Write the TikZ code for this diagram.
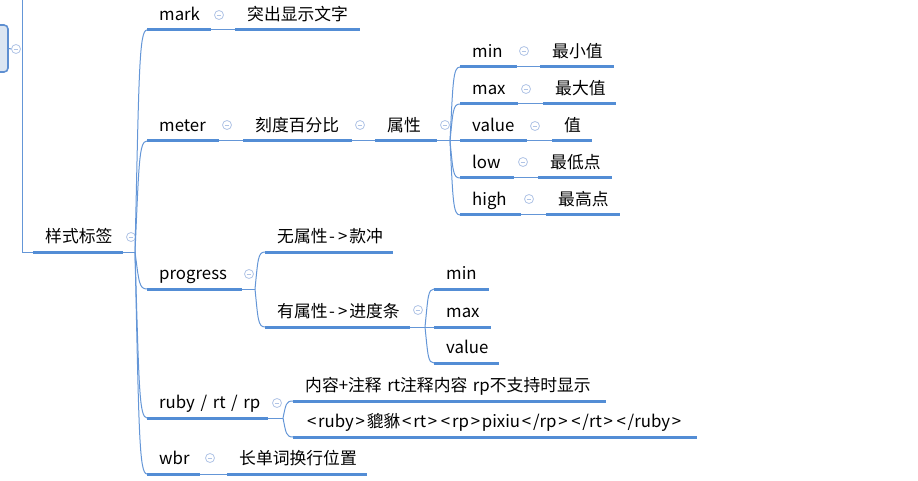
\documentclass[tikz,border=0pt]{standalone}
\usepackage{fontspec}
\setmainfont{Noto Sans CJK SC}
\definecolor{ulc}{RGB}{83,141,213}
\definecolor{lnc}{RGB}{100,150,215}
\definecolor{colc}{RGB}{176,196,230}
\definecolor{boxf}{RGB}{220,230,242}
\definecolor{boxd}{RGB}{94,143,209}
\newcommand\Tx[1]{\mbox{#1}}
\newcommand\LT{\kern1.8pt<\kern1.8pt}
\newcommand\GT{\kern1.8pt>\kern1.8pt}
\newcommand\AR{\kern1.5pt-\kern1.5pt\GT}
\begin{document}
\begin{tikzpicture}[x=1pt,y=-1pt,
  topic/.style={inner xsep=12pt, inner ysep=9pt, text height=12pt, text depth=0pt,
    anchor=south west, align=left, font=\fontsize{16.8}{20}\selectfont},
  ul/.style={draw=ulc, line width=3pt},
  conn/.style={draw=lnc, line width=1pt},
  col/.style={circle, draw=colc, fill=white, line width=0.8pt, minimum size=9pt, inner sep=0pt,
    path picture={\draw[colc, line width=0.8pt] ([xshift=-2.3pt]path picture bounding box.center) -- ([xshift=2.3pt]path picture bounding box.center);}},
  prevbox/.style={draw=boxd, fill=boxf, line width=1.6pt, rounded corners=4pt, minimum width=20pt, minimum height=47pt, inner sep=0pt}
]
\useasboundingbox (0,0) rectangle (918,481);

% previous (off-canvas) parent
\node[prevbox] (prev) at (-2,48.5) {};
\node[col] (c0) at (16,49) {};

% topics
\node[topic, text width=66pt] (root) at (33,252) {样式标签};
\node[topic, text width=40pt] (mark) at (147,30) {mark};
\node[topic, text width=101pt] (markc) at (235,30) {突出显示文字};
\node[topic, text width=48pt] (meter) at (147,141) {meter};
\node[topic, text width=85pt] (meterc) at (243,141) {刻度百分比};
\node[topic, text width=38pt] (attr) at (375,141) {属性};
\node[topic, text width=33pt] (mmin) at (460,67) {min};
\node[topic, text width=50pt] (mminc) at (540,67) {最小值};
\node[topic, text width=34pt] (mmax) at (460,104) {max};
\node[topic, text width=49pt] (mmaxc) at (543,104) {最大值};
\node[topic, text width=43pt] (mval) at (460,141) {value};
\node[topic, text width=16pt] (mvalc) at (552,141) {值};
\node[topic, text width=30pt] (mlow) at (460,178) {low};
\node[topic, text width=50pt] (mlowc) at (538,178) {最低点};
\node[topic, text width=37pt] (mhigh) at (460,215) {high};
\node[topic, text width=50pt] (mhighc) at (546,215) {最高点};
\node[topic, text width=71pt] (prog) at (147,289) {progress};
\node[topic, text width=104pt] (p1) at (265,252) {\Tx{无属性\AR 款冲}};
\node[topic, text width=121pt] (p2) at (265,327) {\Tx{有属性\AR 进度条}};
\node[topic, text width=31pt] (pmin) at (434,289) {min};
\node[topic, text width=33pt] (pmax) at (434,327) {max};
\node[topic, text width=41pt] (pval) at (434,363) {value};
\node[topic, text width=97pt] (ruby) at (147,418) {\Tx{ruby / rt / rp}};
\node[topic, text width=289pt] (r1) at (293,401) {\Tx{内容+注释 rt注释内容 rp不支持时显示}};
\node[topic, text width=380pt] (r2) at (293,437) {\Tx{\LT ruby\GT 貔貅\LT rt\GT\LT rp\GT pixiu\LT/rp\GT\LT/rt\GT\LT/ruby\GT}};
\node[topic, text width=29pt] (wbr) at (147,474) {wbr};
\node[topic, text width=116pt] (wbrc) at (227,474) {长单词换行位置};

% underlines
\foreach \n in {root,mark,markc,meter,meterc,attr,mmin,mminc,mmax,mmaxc,mval,mvalc,mlow,mlowc,mhigh,mhighc,prog,p1,p2,pmin,pmax,pval,ruby,r1,r2,wbr,wbrc}
  \draw[ul] (\n.south west) -- (\n.south east);

% collapse markers
\node[col] (croot) at (131,237) {};
\node[col] (cmark) at (219,15) {};
\node[col] (cmeter) at (227,125) {};
\node[col] (cmeterc) at (360,125) {};
\node[col] (cattr) at (445,125) {};
\node[col] (cmin) at (524,51) {};
\node[col] (cmax) at (526,89) {};
\node[col] (cval) at (535,126) {};
\node[col] (clow) at (523,162) {};
\node[col] (chigh) at (529,199) {};
\node[col] (cprog) at (249,274) {};
\node[col] (cp2) at (418,310) {};
\node[col] (cruby) at (277,403) {};
\node[col] (cwbr) at (210,458) {};

% connectors
\coordinate (top) at (22,0);
\draw[conn] (prev.east) -- (c0.west);
\draw[conn] (top) |- (root.south west);

\coordinate (rb) at (135,252);
\draw[conn] (root.south east) -- (rb);
\draw[conn] (rb) .. controls +(4,-178) and +(-8,0) .. (mark.south west);
\draw[conn] (rb) .. controls +(4,-89) and +(-8,0) .. (meter.south west);
\draw[conn] (rb) .. controls +(4,30) and +(-8,0) .. (prog.south west);
\draw[conn] (rb) .. controls +(4,133) and +(-8,0) .. (ruby.south west);
\draw[conn] (rb) .. controls +(4,178) and +(-8,0) .. (wbr.south west);

\draw[conn] (mark.south east) -- (markc.south west);
\draw[conn] (meter.south east) -- (meterc.south west);
\draw[conn] (meterc.south east) -- (attr.south west);

\coordinate (ab) at (450,141);
\draw[conn] (attr.south east) -- (ab);
\draw[conn] (ab) .. controls +(3,-59) and +(-7,0) .. (mmin.south west);
\draw[conn] (ab) .. controls +(3,-30) and +(-7,0) .. (mmax.south west);
\draw[conn] (ab) -- (mval.south west);
\draw[conn] (ab) .. controls +(3,30) and +(-7,0) .. (mlow.south west);
\draw[conn] (ab) .. controls +(3,59) and +(-7,0) .. (mhigh.south west);

\draw[conn] (mmin.south east) -- (mminc.south west);
\draw[conn] (mmax.south east) -- (mmaxc.south west);
\draw[conn] (mval.south east) -- (mvalc.south west);
\draw[conn] (mlow.south east) -- (mlowc.south west);
\draw[conn] (mhigh.south east) -- (mhighc.south west);

\coordinate (pb) at (255,289);
\draw[conn] (prog.south east) -- (pb);
\draw[conn] (pb) .. controls +(3,-30) and +(-7,0) .. (p1.south west);
\draw[conn] (pb) .. controls +(3,30) and +(-7,0) .. (p2.south west);

\coordinate (qb) at (425,327);
\draw[conn] (p2.south east) -- (qb);
\draw[conn] (qb) .. controls +(3,-30) and +(-6,0) .. (pmin.south west);
\draw[conn] (qb) -- (pmax.south west);
\draw[conn] (qb) .. controls +(3,29) and +(-6,0) .. (pval.south west);

\coordinate (rrb) at (283,418);
\draw[conn] (ruby.south east) -- (rrb);
\draw[conn] (rrb) .. controls +(3,-14) and +(-7,0) .. (r1.south west);
\draw[conn] (rrb) .. controls +(3,15) and +(-7,0) .. (r2.south west);

\draw[conn] (wbr.south east) -- (wbrc.south west);
\end{tikzpicture}
\end{document}
